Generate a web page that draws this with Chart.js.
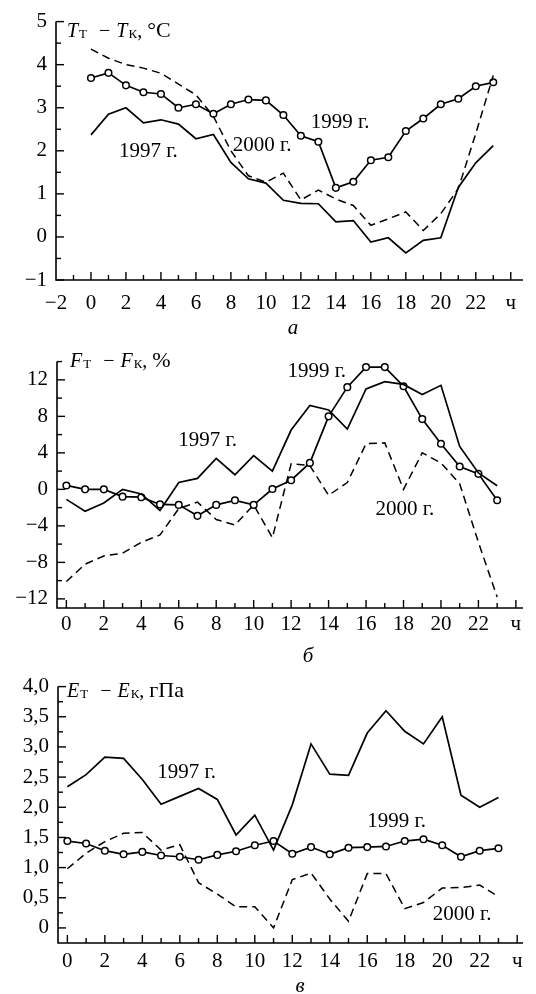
<!DOCTYPE html>
<html><head><meta charset="utf-8">
<script src="https://cdn.jsdelivr.net/npm/chart.js@4"></script>
<style>
html,body{margin:0;padding:0;background:#fff;}
#wrap{position:relative;width:536px;height:994px;overflow:hidden;}
canvas{position:absolute;left:0;}
</style></head><body>
<div id="wrap">
<canvas id="ca" width="536" height="340" style="top:0px"></canvas>
<canvas id="cb" width="536" height="325" style="top:340px"></canvas>
<canvas id="cc" width="536" height="329" style="top:665px"></canvas>
</div>
<script>
// ---------- DATA ----------
const hours = [0,1,2,3,4,5,6,7,8,9,10,11,12,13,14,15,16,17,18,19,20,21,22,23];

// Panel a: T_T - T_K, °C
const tempDiff1997 = [2.37,2.85,3.0,2.65,2.72,2.62,2.28,2.38,1.73,1.35,1.25,0.85,0.78,0.77,0.35,0.38,-0.12,-0.02,-0.37,-0.08,-0.02,1.15,1.72,2.12];
const tempDiff1999 = [3.69,3.81,3.52,3.36,3.32,3.0,3.08,2.86,3.08,3.19,3.17,2.83,2.35,2.21,1.14,1.28,1.78,1.85,2.46,2.75,3.08,3.21,3.5,3.59];
const tempDiff2000 = [4.36,4.15,4.0,3.92,3.8,3.55,3.3,2.8,2.0,1.42,1.27,1.48,0.86,1.09,0.88,0.73,0.27,0.42,0.58,0.15,0.54,1.12,2.4,3.75];

// Panel б: F_T - F_K, %
const humDiff1997 = [-1.1,-2.4,-1.5,0.0,-0.5,-2.3,0.75,1.2,3.4,1.6,3.7,2.0,6.5,9.2,8.7,6.6,11.0,11.8,11.5,10.4,11.4,4.7,1.8,0.4];
const humDiff1999 = [0.43,0.0,0.0,-0.8,-0.86,-1.65,-1.7,-2.9,-1.7,-1.2,-1.7,0.04,1.0,2.9,8.0,11.2,13.4,13.4,11.3,7.7,5.0,2.5,1.7,-1.2];
const humDiff2000 = [-10.1,-8.2,-7.3,-7.0,-5.8,-5.0,-2.1,-1.4,-3.3,-3.9,-1.7,-5.3,2.8,2.6,-0.65,0.75,5.0,5.1,0.0,4.0,2.9,0.6,-5.8,-11.8];

// Panel в: E_T - E_K, гПа
const vapDiff1997 = [2.34,2.54,2.83,2.81,2.46,2.05,2.18,2.31,2.13,1.54,1.87,1.29,2.04,3.05,2.55,2.53,3.23,3.6,3.26,3.05,3.5,2.2,2.0,2.16];
const vapDiff1999 = [1.44,1.40,1.28,1.22,1.26,1.2,1.18,1.13,1.21,1.27,1.37,1.44,1.23,1.34,1.22,1.33,1.34,1.35,1.44,1.47,1.37,1.18,1.28,1.32];
const vapDiff2000 = [0.98,1.24,1.43,1.57,1.58,1.29,1.38,0.75,0.56,0.35,0.35,0.0,0.8,0.91,0.48,0.11,0.9,0.9,0.32,0.42,0.66,0.67,0.71,0.52];

// Tick labels
const xTicksA = [-2,0,2,4,6,8,10,12,14,16,18,20,22,24];
const xTicksBC = [0,2,4,6,8,10,12,14,16,18,20,22,24];
const yTicksA = [-1,0,1,2,3,4,5];
const yTicksB = [-12,-8,-4,0,4,8,12];
const yTicksC = [0,0.5,1,1.5,2,2.5,3,3.5,4];
const hourUnit = 'ч';
const yearLabels = ['1997 г.','1999 г.','2000 г.'];
const panelLetters = ['а','б','в'];

// ---------- RENDERING ----------
const FONT = '"Liberation Serif", "Times New Roman", serif';
const minus = s => String(s).replace(/-/g,'\u2212');

function pts(vals){ return hours.map((h,i)=>({x:h,y:vals[i]})); }

function seriesSets(v1997, v1999, v2000){
  return [
    {label:yearLabels[0], data:pts(v1997), borderColor:'#000', borderWidth:1.7, pointRadius:0, fill:false, tension:0},
    {label:yearLabels[2], data:pts(v2000), borderColor:'#000', borderWidth:1.5, borderDash:[8,5], pointRadius:0, fill:false, tension:0},
    {label:yearLabels[1], data:pts(v1999), borderColor:'#000', borderWidth:1.7, pointRadius:3.3, pointBackgroundColor:'#fff', pointBorderColor:'#000', pointBorderWidth:1.5, fill:false, tension:0}
  ];
}

function isMult(v, step){ const r = Math.abs(v/step - Math.round(v/step)); return r < 1e-6; }

const deco = {
  id:'deco',
  afterDraw(chart, args, o){
    const {ctx, chartArea:a, scales:{x, y}} = chart;
    ctx.save();
    ctx.strokeStyle = '#000'; ctx.lineWidth = 1.6; ctx.lineCap='butt';
    ctx.beginPath();
    ctx.moveTo(a.left, a.top); ctx.lineTo(a.left, a.bottom); ctx.lineTo(a.right, a.bottom);
    ctx.stroke();
    ctx.lineWidth = 1.4;
    for (let v = o.xTickFrom; v <= o.xTickTo + 1e-9; v += o.xMinorStep){
      const px = x.getPixelForValue(v);
      const L = isMult(v, o.xMajorStep) ? 8 : 5;
      ctx.beginPath(); ctx.moveTo(px, a.bottom); ctx.lineTo(px, a.bottom - L); ctx.stroke();
    }
    for (let v = o.yTickFrom; v <= o.yTickTo + 1e-9; v += o.yMinorStep){
      const py = y.getPixelForValue(v);
      const L = isMult(v, o.yMajorStep) ? 8 : 5;
      ctx.beginPath(); ctx.moveTo(a.left, py); ctx.lineTo(a.left + L, py); ctx.stroke();
    }
    ctx.fillStyle = '#000';
    let cx = a.left + o.titleDx, by = a.top + o.titleDy;
    ctx.textBaseline = 'alphabetic'; ctx.textAlign = 'left';
    for (const p of o.title){
      cx += (p.gap || 0);
      ctx.font = p.font;
      ctx.fillText(p.t, cx, by + (p.dy || 0));
      cx += ctx.measureText(p.t).width + (p.after || 0);
    }
    ctx.font = '21px ' + FONT;
    for (const n of o.notes){
      ctx.fillText(n.t, x.getPixelForValue(n.x), y.getPixelForValue(n.y));
    }
    ctx.font = 'italic 21px ' + FONT;
    ctx.textAlign = 'center';
    ctx.fillText(o.letter, o.letterX, o.letterY);
    ctx.restore();
  }
};

function titleParts(sym, unit){
  const main = 'italic 20px ' + FONT, sub = '13px ' + FONT, norm = '20px ' + FONT, unitF = '22px ' + FONT;
  return [
    {t:sym, font:main},
    {t:'Т', font:sub, dy:1, gap:1},
    {t:'\u2212', font:norm, gap:12, after:6},
    {t:sym, font:main},
    {t:'К', font:sub, dy:1, gap:1},
    {t:',', font:norm, after:5},
    {t:unit, font:unitF}
  ];
}

function makeChart(id, cfg){
  return new Chart(document.getElementById(id), {
    type:'line',
    data:{datasets:cfg.sets},
    options:{
      responsive:false, animation:false, devicePixelRatio:1,
      layout:{padding:{top:cfg.padTop, right:13, left:0, bottom:0}},
      plugins:{legend:{display:false}, tooltip:{enabled:false}, deco:cfg.deco},
      scales:{
        x:{type:'linear', min:cfg.xMin, max:cfg.xMax,
          afterFit:s=>{s.height = cfg.xH;},
          afterBuildTicks:s=>{s.ticks = cfg.xTicks.filter(v=>v>=cfg.xMin && v<=cfg.xMax).map(v=>({value:v}));},
          grid:{display:false, drawTicks:false}, border:{display:false},
          ticks:{autoSkip:false, maxRotation:0, padding:cfg.xPad, color:'#000', font:{family:FONT, size:21},
            callback:v => v === 24 ? hourUnit : minus(v)}
        },
        y:{type:'linear', min:cfg.yMin, max:cfg.yMax,
          afterFit:s=>{s.width = cfg.yW;},
          afterBuildTicks:s=>{s.ticks = cfg.yTicks.map(v=>({value:v}));},
          grid:{display:false, drawTicks:false}, border:{display:false},
          ticks:{autoSkip:false, padding:9, color:'#000', font:{family:FONT, size:21},
            callback:cfg.yFmt}
        }
      }
    },
    plugins:[deco]
  });
}

makeChart('ca', {
  sets: seriesSets(tempDiff1997, tempDiff1999, tempDiff2000),
  xMin:-2, xMax:24.7, yMin:-1, yMax:5, xTicks:xTicksA, yTicks:yTicksA,
  padTop:20, xH:60, yW:56, xPad:11,
  yFmt: v => minus(v),
  deco:{xTickFrom:-1, xTickTo:24, xMinorStep:1, xMajorStep:2,
        yTickFrom:-1, yTickTo:5, yMinorStep:0.5, yMajorStep:1,
        titleDx:11, titleDy:15, title:titleParts('T','°C'),
        notes:[{t:yearLabels[0], x:1.6, y:1.85},{t:yearLabels[2], x:8.1, y:2.0},{t:yearLabels[1], x:12.57, y:2.54}],
        letter:panelLetters[0], letterX:293, letterY:334}
});

makeChart('cb', {
  sets: seriesSets(humDiff1997, humDiff1999, humDiff2000),
  xMin:-0.5, xMax:24.38, yMin:-13, yMax:14, xTicks:xTicksBC, yTicks:yTicksB,
  padTop:17, xH:57, yW:57, xPad:4,
  yFmt: v => minus(v),
  deco:{xTickFrom:0, xTickTo:24, xMinorStep:1, xMajorStep:2,
        yTickFrom:-12, yTickTo:14, yMinorStep:2, yMajorStep:4,
        titleDx:13, titleDy:5, title:titleParts('F','%'),
        notes:[{t:yearLabels[1], x:11.8, y:12.3},{t:yearLabels[0], x:5.98, y:4.7},{t:yearLabels[2], x:16.5, y:-2.8}],
        letter:panelLetters[1], letterX:308, letterY:322}
});

makeChart('cc', {
  sets: seriesSets(vapDiff1997, vapDiff1999, vapDiff2000),
  xMin:-0.5, xMax:24.31, yMin:-0.25, yMax:4, xTicks:xTicksBC, yTicks:yTicksC,
  padTop:18, xH:51, yW:58, xPad:6,
  yFmt: v => v === 0 ? '0' : v.toFixed(1).replace('.', ','),
  deco:{xTickFrom:0, xTickTo:24, xMinorStep:1, xMajorStep:2,
        yTickFrom:0, yTickTo:4, yMinorStep:0.25, yMajorStep:0.5,
        titleDx:9, titleDy:10, title:titleParts('E','гПа'),
        notes:[{t:yearLabels[0], x:4.8, y:2.48},{t:yearLabels[1], x:16.0, y:1.68},{t:yearLabels[2], x:19.5, y:0.13}],
        letter:panelLetters[2], letterX:300, letterY:327}
});
</script>
</body></html>
